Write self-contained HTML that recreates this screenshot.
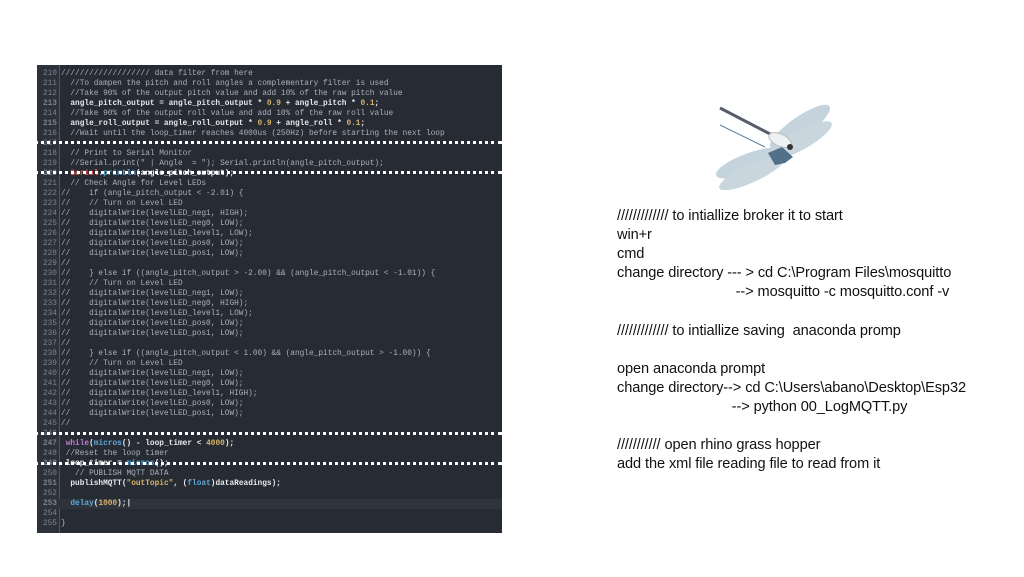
<!DOCTYPE html>
<html><head><style>
body{margin:0;width:1024px;height:577px;background:#fff;position:relative;overflow:hidden;font-family:"Liberation Sans",sans-serif}
#code{position:absolute;left:37px;top:65px;width:465px;height:468px;background:#272b33;overflow:hidden}
#gut{position:absolute;left:0;top:0;width:22px;height:468px;background:#2d313a;border-right:1px solid #50555e}
.ln{position:absolute;left:0;width:465px;height:10px;font-family:"Liberation Mono",monospace;font-size:7.8px;line-height:10px;white-space:pre;color:#aab0ba}
.ln .n{display:inline-block;width:20px;text-align:right;color:#7c828c;margin-right:4px}
.b{color:#e6e8ec;font-weight:bold}
.o{color:#d8b36a}.k{color:#c27bd0}.f{color:#5fa8d8}.s{color:#d8b36a}.r{color:#e05a5a}
.dot{position:absolute;left:22px;width:480px;height:0;border-top:3px dotted #fff}
#txt{position:absolute;left:617px;top:207px;font-size:14.6px;line-height:19.1px;color:#111;white-space:pre;letter-spacing:-0.1px}
</style></head><body>
<div id="code"><div id="gut"></div>
<div class="ln" style="top:4px"><span class="n">210</span>/////////////////// data filter from here</div>
<div class="ln" style="top:14px"><span class="n">211</span>  //To dampen the pitch and roll angles a complementary filter is used</div>
<div class="ln" style="top:24px"><span class="n">212</span>  //Take 90% of the output pitch value and add 10% of the raw pitch value</div>
<div class="ln b" style="top:34px"><span class="n">213</span>  angle_pitch_output = angle_pitch_output * <span class="o">0.9</span> + angle_pitch * <span class="o">0.1</span>;</div>
<div class="ln" style="top:44px"><span class="n">214</span>  //Take 90% of the output roll value and add 10% of the raw roll value</div>
<div class="ln b" style="top:54px"><span class="n">215</span>  angle_roll_output = angle_roll_output * <span class="o">0.9</span> + angle_roll * <span class="o">0.1</span>;</div>
<div class="ln" style="top:64px"><span class="n">216</span>  //Wait until the loop_timer reaches 4000us (250Hz) before starting the next loop</div>
<div class="ln" style="top:74px"><span class="n">217</span></div>
<div class="ln" style="top:84px"><span class="n">218</span>  // Print to Serial Monitor</div>
<div class="ln" style="top:94px"><span class="n">219</span>  //Serial.print(" | Angle  = "); Serial.println(angle_pitch_output);</div>
<div class="ln b" style="top:104px"><span class="n">220</span>  <span class="r">Serial</span>.<span class="f">println</span>(angle_pitch_output);</div>
<div class="ln" style="top:114px"><span class="n">221</span>  // Check Angle for Level LEDs</div>
<div class="ln" style="top:124px"><span class="n">222</span>//    if (angle_pitch_output &lt; -2.01) {</div>
<div class="ln" style="top:134px"><span class="n">223</span>//    // Turn on Level LED</div>
<div class="ln" style="top:144px"><span class="n">224</span>//    digitalWrite(levelLED_neg1, HIGH);</div>
<div class="ln" style="top:154px"><span class="n">225</span>//    digitalWrite(levelLED_neg0, LOW);</div>
<div class="ln" style="top:164px"><span class="n">226</span>//    digitalWrite(levelLED_level1, LOW);</div>
<div class="ln" style="top:174px"><span class="n">227</span>//    digitalWrite(levelLED_pos0, LOW);</div>
<div class="ln" style="top:184px"><span class="n">228</span>//    digitalWrite(levelLED_pos1, LOW);</div>
<div class="ln" style="top:194px"><span class="n">229</span>//</div>
<div class="ln" style="top:204px"><span class="n">230</span>//    } else if ((angle_pitch_output &gt; -2.00) &amp;&amp; (angle_pitch_output &lt; -1.01)) {</div>
<div class="ln" style="top:214px"><span class="n">231</span>//    // Turn on Level LED</div>
<div class="ln" style="top:224px"><span class="n">232</span>//    digitalWrite(levelLED_neg1, LOW);</div>
<div class="ln" style="top:234px"><span class="n">233</span>//    digitalWrite(levelLED_neg0, HIGH);</div>
<div class="ln" style="top:244px"><span class="n">234</span>//    digitalWrite(levelLED_level1, LOW);</div>
<div class="ln" style="top:254px"><span class="n">235</span>//    digitalWrite(levelLED_pos0, LOW);</div>
<div class="ln" style="top:264px"><span class="n">236</span>//    digitalWrite(levelLED_pos1, LOW);</div>
<div class="ln" style="top:274px"><span class="n">237</span>//</div>
<div class="ln" style="top:284px"><span class="n">238</span>//    } else if ((angle_pitch_output &lt; 1.00) &amp;&amp; (angle_pitch_output &gt; -1.00)) {</div>
<div class="ln" style="top:294px"><span class="n">239</span>//    // Turn on Level LED</div>
<div class="ln" style="top:304px"><span class="n">240</span>//    digitalWrite(levelLED_neg1, LOW);</div>
<div class="ln" style="top:314px"><span class="n">241</span>//    digitalWrite(levelLED_neg0, LOW);</div>
<div class="ln" style="top:324px"><span class="n">242</span>//    digitalWrite(levelLED_level1, HIGH);</div>
<div class="ln" style="top:334px"><span class="n">243</span>//    digitalWrite(levelLED_pos0, LOW);</div>
<div class="ln" style="top:344px"><span class="n">244</span>//    digitalWrite(levelLED_pos1, LOW);</div>
<div class="ln" style="top:354px"><span class="n">245</span>//</div>
<div class="ln" style="top:364px"><span class="n">246</span></div>
<div class="ln b" style="top:374px"><span class="n">247</span> <span class="k">while</span>(<span class="f">micros</span>() - loop_timer &lt; <span class="o">4000</span>);</div>
<div class="ln" style="top:384px"><span class="n">248</span> //Reset the loop timer</div>
<div class="ln b" style="top:394px"><span class="n">249</span> loop_timer = <span class="f">micros</span>();</div>
<div class="ln" style="top:404px"><span class="n">250</span>   // PUBLISH MQTT DATA</div>
<div class="ln b" style="top:414px"><span class="n">251</span>  publishMQTT(<span class="s">"outTopic"</span>, (<span class="f">float</span>)dataReadings);</div>
<div class="ln" style="top:424px"><span class="n">252</span></div>
<div class="ln b" style="top:434px;background:#2f333c"><span class="n">253</span>  <span class="f">delay</span>(<span class="o">1000</span>);|</div>
<div class="ln" style="top:444px"><span class="n">254</span></div>
<div class="ln" style="top:454px"><span class="n">255</span>}</div>
</div>
<div class="dot" style="top:141px"></div>
<div class="dot" style="top:171px"></div>
<div class="dot" style="top:432px"></div>
<div class="dot" style="top:462px"></div>
<svg style="position:absolute;left:700px;top:95px" width="140" height="95">
<ellipse cx="100" cy="32" rx="36" ry="10" transform="rotate(-35 100 32)" fill="#c4d3dc"/>
<ellipse cx="102" cy="45" rx="34" ry="9" transform="rotate(-30 102 45)" fill="#c9d6de"/>
<ellipse cx="50" cy="68" rx="36" ry="10" transform="rotate(-20 50 68)" fill="#c4d3dc"/>
<ellipse cx="52" cy="78" rx="36" ry="9" transform="rotate(-25 52 78)" fill="#c9d6de"/>
<line x1="20" y1="13" x2="72" y2="40" stroke="#555d66" stroke-width="3"/>
<line x1="20" y1="30" x2="65" y2="52" stroke="#5d7a90" stroke-width="1"/>
<polygon points="68,58 82,52 93,62 85,68 75,70" fill="#53708a"/>
<ellipse cx="80" cy="45" rx="12" ry="6" transform="rotate(25 80 45)" fill="#eef0f2" stroke="#bbb"/>
<circle cx="90" cy="52" r="3" fill="#333"/>
</svg>
<div id="txt">///////////// to intiallize broker it to start
win+r
cmd
change directory --- &gt; cd C:\Program Files\mosquitto
                              --&gt; mosquitto -c mosquitto.conf -v

///////////// to intiallize saving  anaconda promp

open anaconda prompt
change directory--&gt; cd C:\Users\abano\Desktop\Esp32
                             --&gt; python 00_LogMQTT.py

/////////// open rhino grass hopper
add the xml file reading file to read from it</div>
</body></html>
